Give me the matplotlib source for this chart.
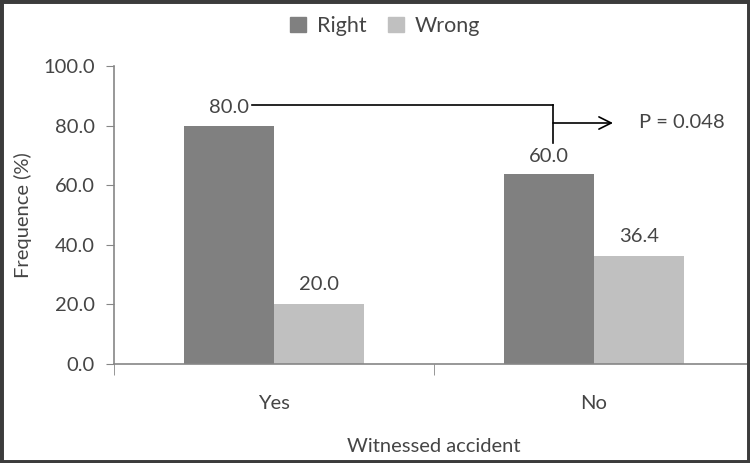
import matplotlib
matplotlib.use("Agg")
import matplotlib.pyplot as plt
from matplotlib.patches import Rectangle, Patch
import numpy as np

categories = ["Yes", "No"]
right_vals = [80.0, 63.6]
wrong_vals = [20.0, 36.4]
right_labels = ["80.0", "60.0"]
wrong_labels = ["20.0", "36.4"]
yticks = [0, 20, 40, 60, 80, 100]
p_text = "P = 0.048"

plt.rcParams['font.family'] = ['Lato', 'DejaVu Sans']
txt_color = '#454545'
dark = '#808080'
light = '#c0c0c0'
spine_c = '#868686'
fs = 14.5

fig = plt.figure(figsize=(7.5, 4.63), dpi=100)
ax = fig.add_axes([114/750, (463-364)/463, 640/750, (364-66)/463])

x = np.arange(len(categories))
w = 0.28125
ax.bar(x - w/2, right_vals, w, color=dark, label="Right")
ax.bar(x + w/2, wrong_vals, w, color=light, label="Wrong")

ax.set_xlim(-0.5, 1.5)
ax.set_ylim(0, 100)
ax.set_yticks(yticks)
ax.set_yticklabels([f"{v:.1f}" for v in yticks])
ax.set_xticks(x)
ax.set_xticklabels(categories)
ax.set_xticks([-0.5, 0.5, 1.5], minor=True)
ax.tick_params(axis='x', which='major', length=0, pad=22, labelsize=fs, labelcolor=txt_color)
ax.tick_params(axis='x', which='minor', length=8, color=spine_c, direction='out')
ax.tick_params(axis='y', length=6, color=spine_c, pad=8, labelsize=fs, labelcolor=txt_color)

for s in ['top', 'right']:
    ax.spines[s].set_visible(False)
for s in ['left', 'bottom']:
    ax.spines[s].set_color(spine_c)
    ax.spines[s].set_linewidth(1.2)

for xi, v, lab in zip(x - w/2, right_vals, right_labels):
    ax.annotate(lab, (xi, v), xytext=(0, 13), textcoords='offset points',
                ha='center', va='center', fontsize=fs, color=txt_color)
for xi, v, lab in zip(x + w/2, wrong_vals, wrong_labels):
    ax.annotate(lab, (xi, v), xytext=(0, 14), textcoords='offset points',
                ha='center', va='center', fontsize=fs, color=txt_color)

ax.set_ylabel("Frequence (%)", fontsize=fs, color=txt_color, labelpad=8)
ax.set_xlabel("Witnessed accident", fontsize=fs, color=txt_color, labelpad=19)

def px2data(px, py):
    return ax.transData.inverted().transform(fig.transFigure.transform((px/750, 1 - py/463)))

x0, yh = px2data(252, 105)
x1, _ = px2data(553, 105)
_, yb = px2data(553, 143)
_, ya = px2data(553, 123)
x2, _ = px2data(613, 123)
xt, _ = px2data(639, 123)
ax.plot([x0, x1], [yh, yh], color='black', lw=1.2, clip_on=False)
ax.plot([x1, x1], [yh, yb], color='black', lw=1.2, clip_on=False)
ax.annotate("", xy=(x2, ya), xytext=(x1, ya),
            arrowprops=dict(arrowstyle='->', color='black', lw=1.2,
                            mutation_scale=22, shrinkA=0, shrinkB=0))
ax.text(xt, ya, p_text, ha='left', va='center', fontsize=fs, color=txt_color)

handles = [Patch(color=dark), Patch(color=light)]
fig.legend(handles, ["Right", "Wrong"], loc='center', bbox_to_anchor=(385/750, 1 - 26/463),
           ncol=2, frameon=False, fontsize=15.5, handlelength=0.75, handleheight=0.75,
           handletextpad=0.5, columnspacing=1.0, labelcolor=txt_color)

fig.patches.append(Rectangle((0, 0), 1, 1, transform=fig.transFigure, fill=False,
                             edgecolor='#3c3c3c', lw=5))

fig.savefig("out.png", dpi=100)
